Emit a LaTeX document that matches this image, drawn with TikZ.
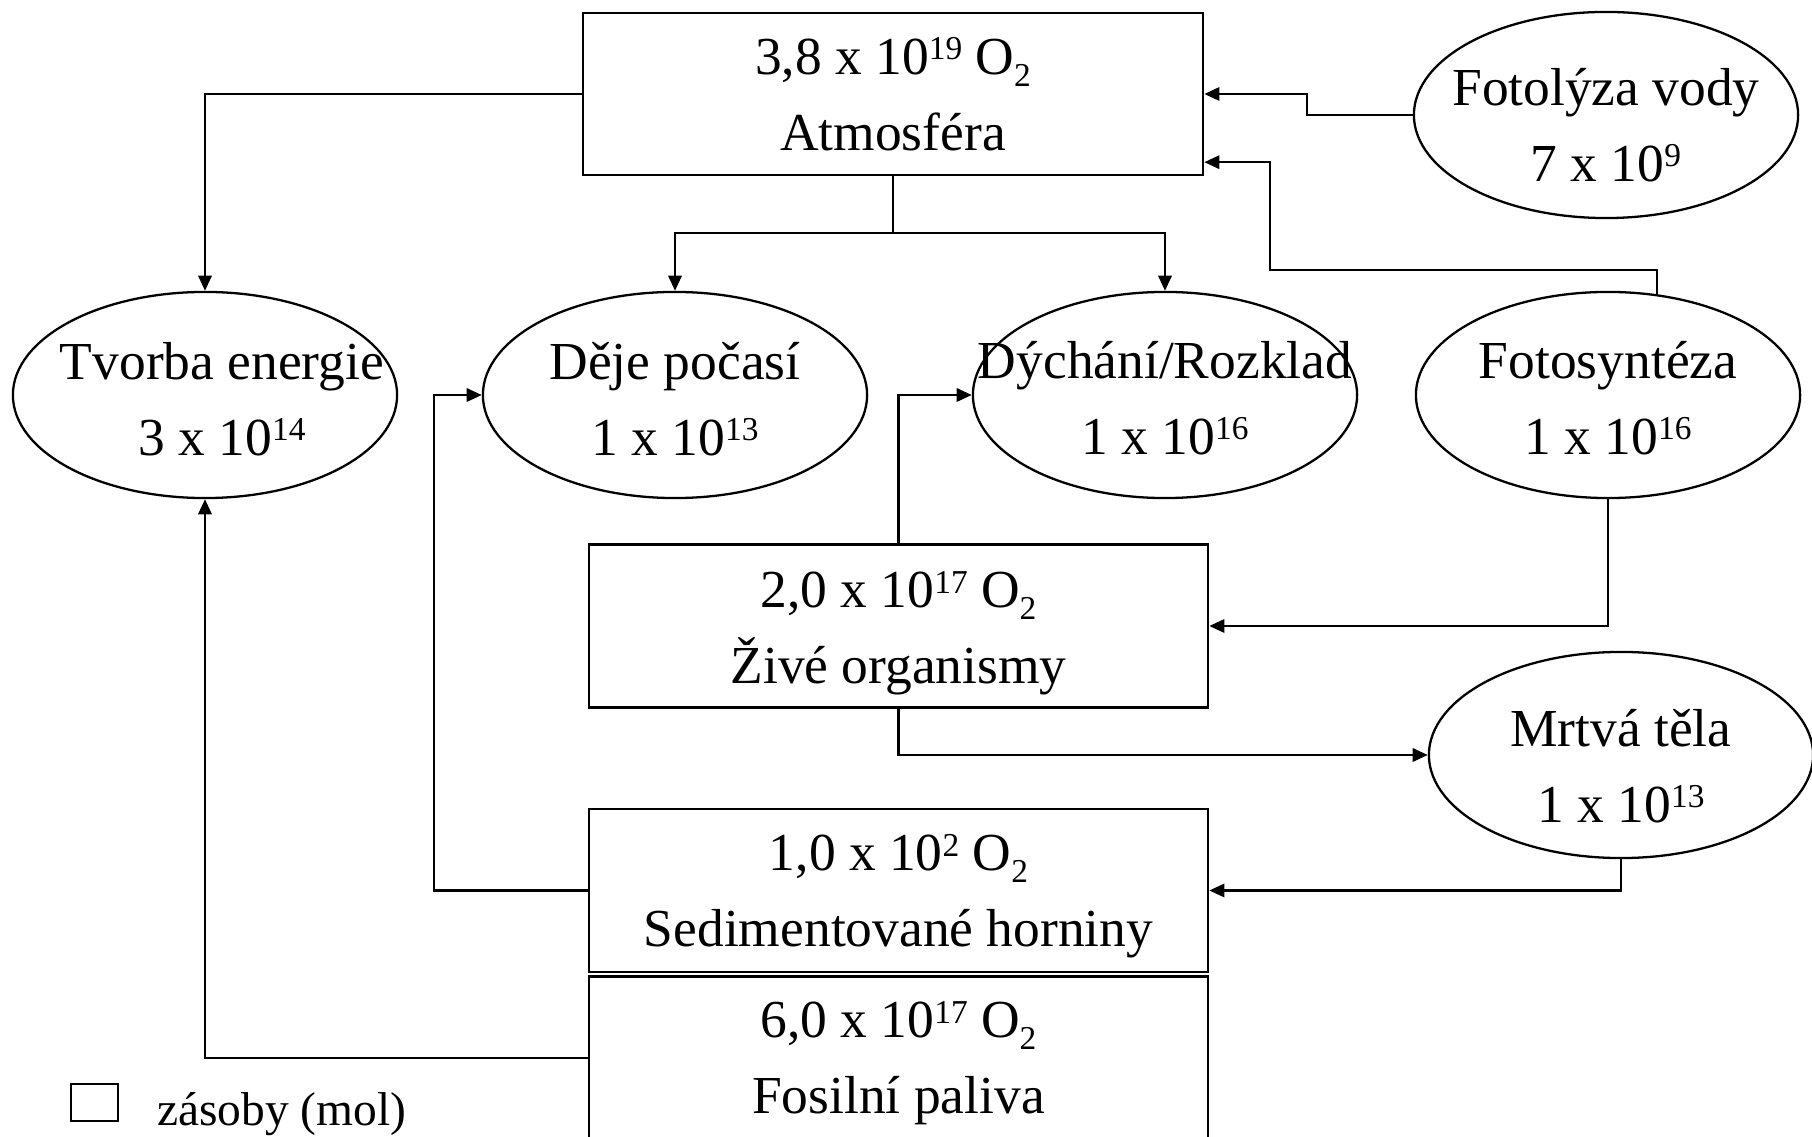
\documentclass[tikz,border=0pt]{standalone}
\usepackage{fontspec}
\setmainfont{Liberation Serif}
\usetikzlibrary{shapes.geometric,arrows.meta,calc}
\newcommand\mysup[1]{\raisebox{4pt}{\fontsize{9.5}{10}\selectfont #1}}
\newcommand\mysub[1]{\raisebox{-3.4pt}{\fontsize{9.5}{10}\selectfont #1}}
% #1 horizontal pre-shift, #2 offset of 2nd baseline below centre, #3/#4 lines
\newcommand\twoline[4][0cm]{\makebox[0pt]{\hspace{#1}\raisebox{-#2}[0pt][0pt]{\begin{tabular}[b]{@{}c@{}}#3\\#4\end{tabular}}}}
\begin{document}
\begin{tikzpicture}[x=0.01cm,y=-0.01cm,
  line width=0.65pt,
  every node/.style={font=\fontsize{15.2}{21.6}\selectfont, inner sep=0pt},
  store/.style={draw, rectangle, minimum width=6.19cm, minimum height=1.63cm},
  flux/.style={draw, ellipse, minimum width=3.84cm, minimum height=2.06cm},
  arr/.style={-{Triangle[length=4.3pt,width=3.8pt]}}]
\useasboundingbox (0,0) rectangle (1812,1137);

% stores
\node[store, minimum width=6.2cm, minimum height=1.62cm] (atm) at (893,94)
  {\twoline{0.56cm}{3,8 x 10\mysup{19} O\mysub{2}}{Atmosféra}};
\node[store] (zive) at (898.5,626)
  {\twoline{0.57cm}{2,0 x 10\mysup{17} O\mysub{2}}{Živé organismy}};
\node[store] (sed) at (898.5,890.5)
  {\twoline{0.56cm}{1,0 x 10\mysup{2} O\mysub{2}}{Sedimentované horniny}};
\node[store] (fosil) at (898.5,1058)
  {\twoline{0.55cm}{6,0 x 10\mysup{17} O\mysub{2}}{Fosilní paliva}};

% fluxes
\node[flux] (fotolyza) at (1606,115) {\twoline{0.66cm}{Fotolýza vody}{7 x 10\mysup{9}}};
\node[flux] (tvorba) at (205,395) {\twoline[0.34cm]{0.60cm}{Tvorba energie}{3 x 10\mysup{14}}};
\node[flux] (deje) at (675,395) {\twoline{0.60cm}{Děje počasí}{1 x 10\mysup{13}}};
\node[flux] (dych) at (1165,395) {\twoline{0.59cm}{Dýchání/Rozklad}{1 x 10\mysup{16}}};
\node[flux] (fotosyn) at (1608,395) {\twoline{0.59cm}{Fotosyntéza}{1 x 10\mysup{16}}};
\node[flux] (mrtva) at (1621,755) {\twoline{0.67cm}{Mrtvá těla}{1 x 10\mysup{13}}};

% legend
\node[draw, minimum width=0.47cm, minimum height=0.37cm] (legbox) at (94.5,1102.5) {};
\node[anchor=base west, font=\fontsize{13.5}{16}\selectfont] (legtext) at (156,1125) {zásoby (mol)};

% connectors
\coordinate (split) at (893,233);
\coordinate (atmlow) at ($(atm.south east)+(0,-14)$);
\draw[arr] (atm.west) -| (tvorba.north);
\draw (atm.south) -- (split);
\draw[arr] (split) -| (deje.north);
\draw[arr] (split) -| (dych.north);
\draw[arr] (fotolyza.west) -- ++(-106,0) |- (atm.east);
\draw[arr] (fotosyn.64) |- (1270,270) |- (atmlow);
\draw[arr] (fotosyn.south) |- (zive.east);
\draw[arr] (zive.north) |- (dych.west);
\draw[arr] (zive.south) |- (mrtva.west);
\draw[arr] (mrtva.south) |- (sed.east);
\draw[arr] (sed.west) -- ++(-154,0) |- (deje.west);
\draw[arr] (fosil.west) -| (tvorba.south);
\end{tikzpicture}
\end{document}
